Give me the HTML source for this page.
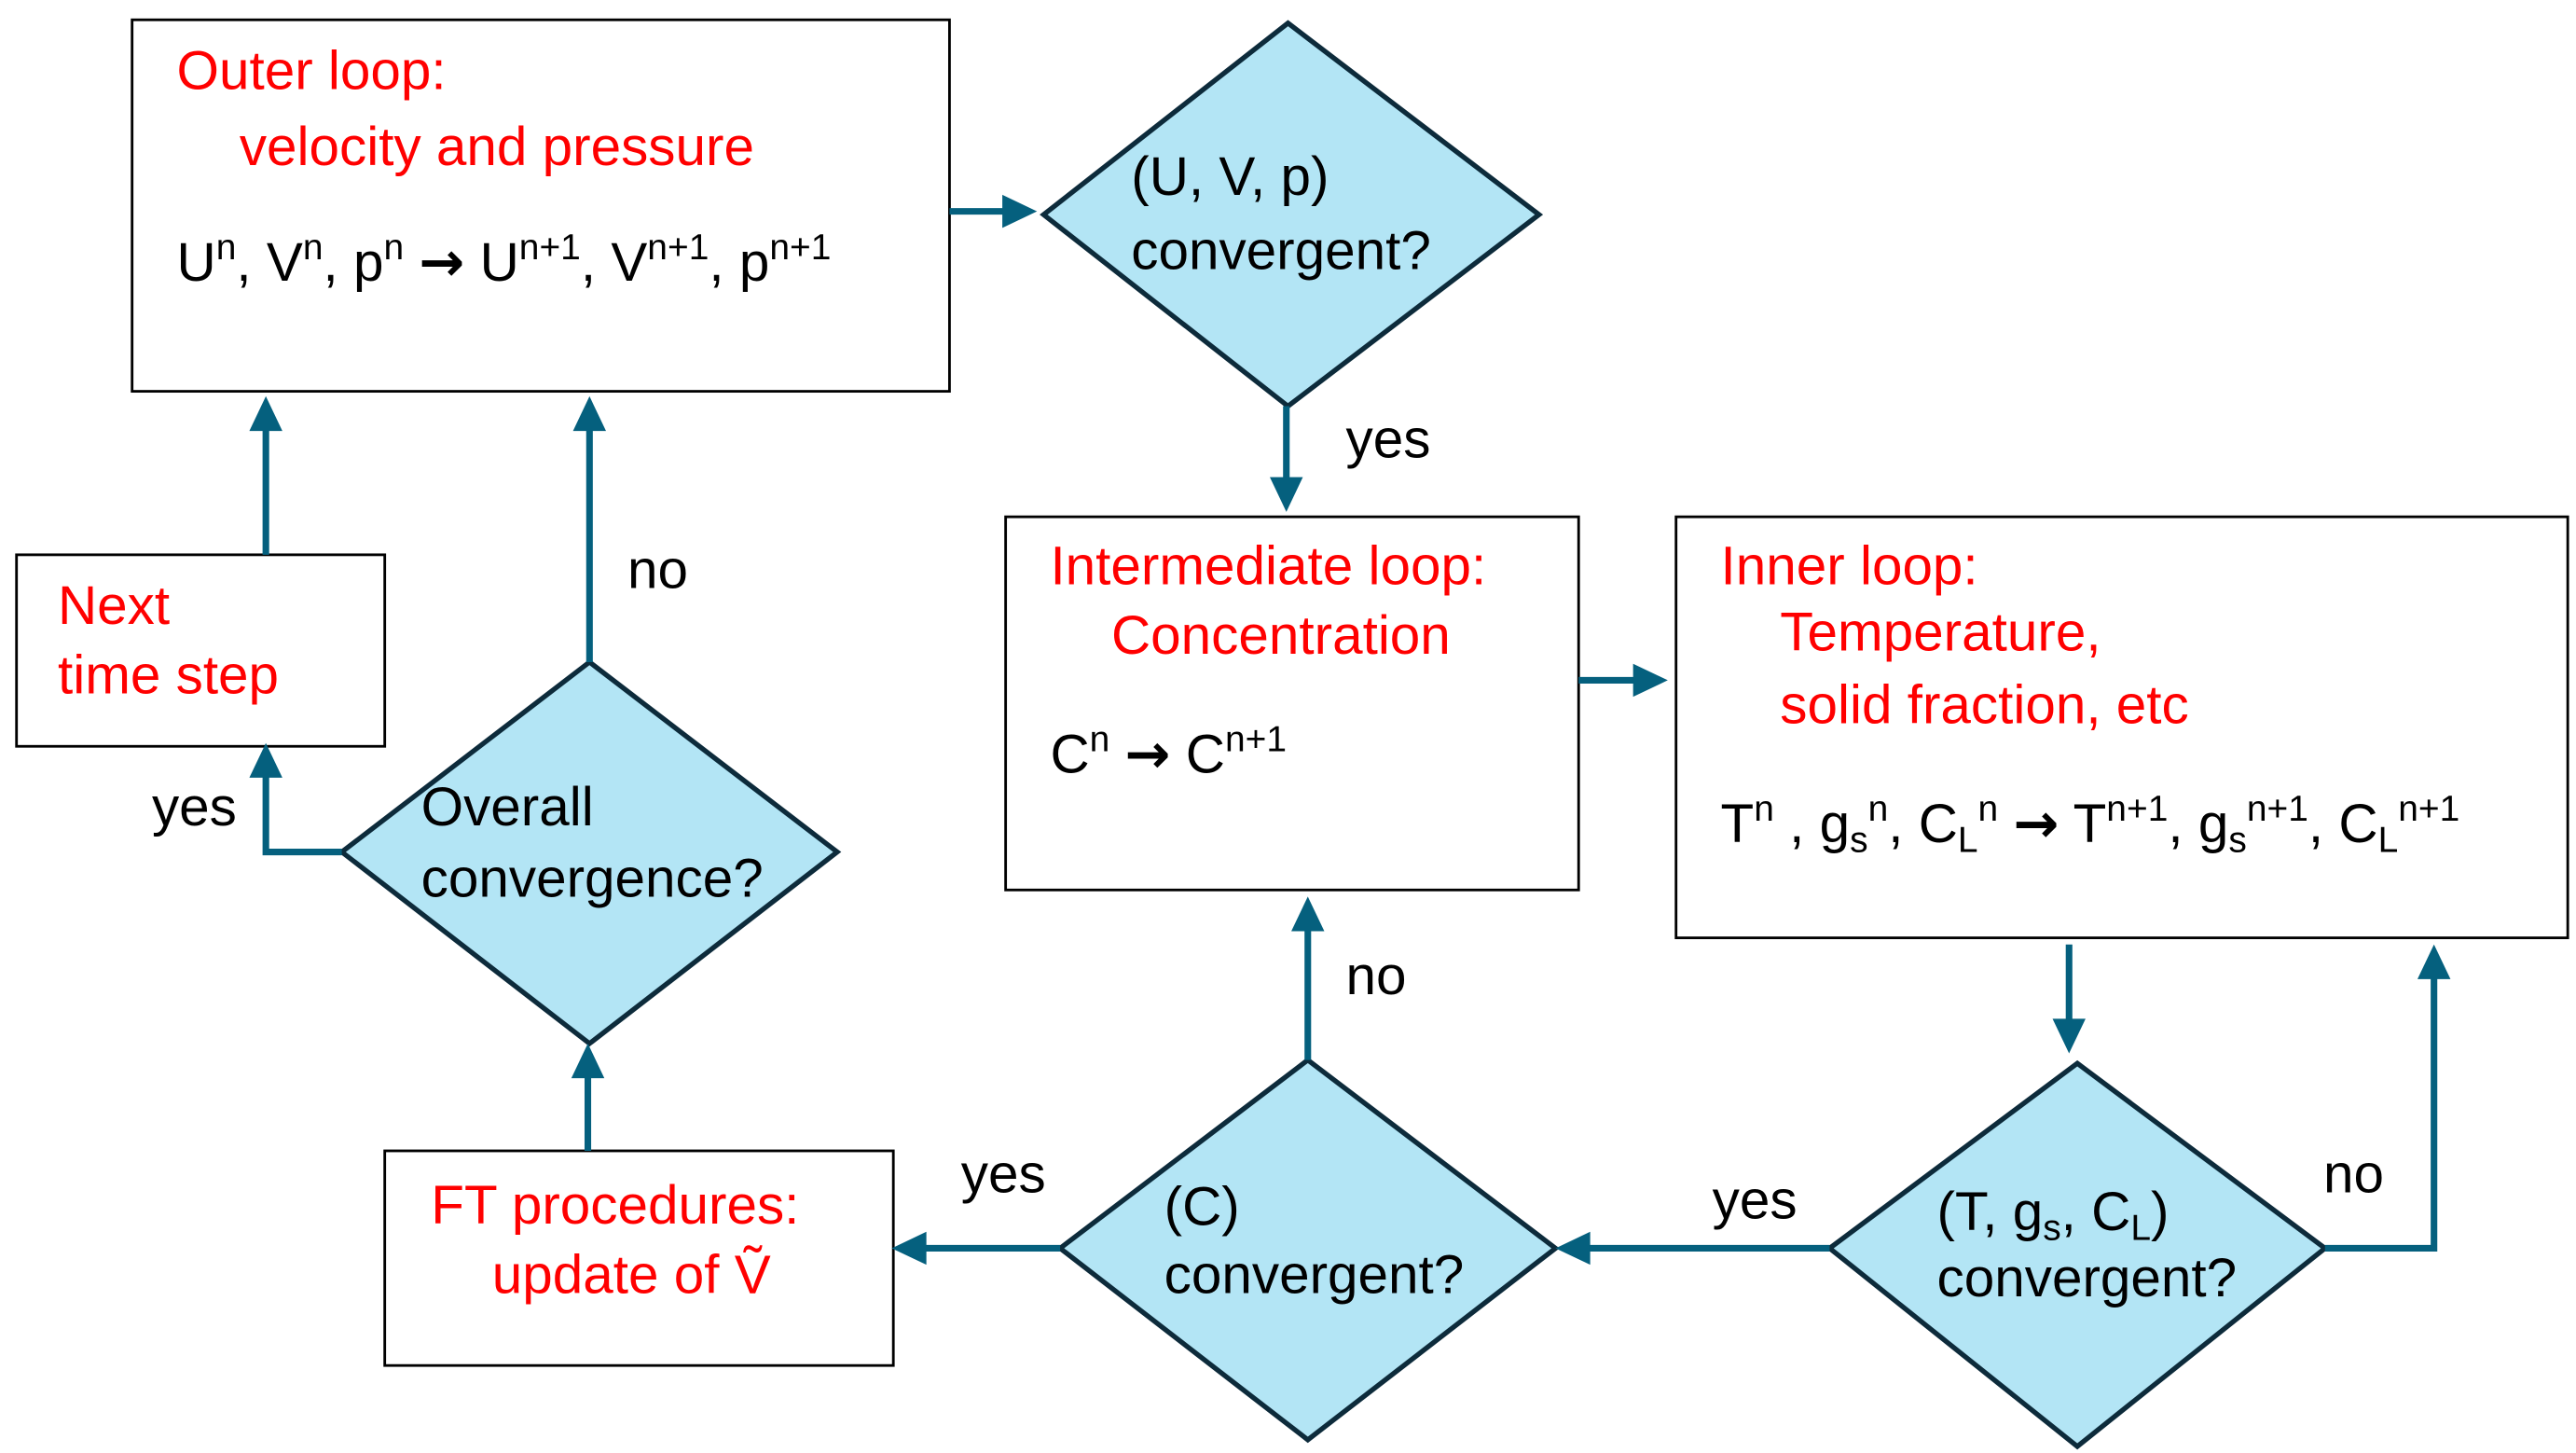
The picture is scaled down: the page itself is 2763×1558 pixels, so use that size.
<!DOCTYPE html>
<html><head><meta charset="utf-8"><style>
html,body{margin:0;padding:0;background:#fff}
svg{display:block}
text{font-family:"Liberation Sans",sans-serif;font-size:33px}
.r{fill:#f00}.k{fill:#000}
.b{fill:#fff;stroke:#000;stroke-width:1.6}
.d{fill:#b3e5f5;stroke:#0d2b3b;stroke-width:3}
.c{fill:none;stroke:#05607e;stroke-width:4}
.h{fill:#05607e}
.a{font-family:"DejaVu Sans",sans-serif;font-weight:bold}
</style></head><body>
<svg width="2763" height="1558" viewBox="0 0 1560 880" preserveAspectRatio="none">
<rect class="b" x="80" y="12" width="495" height="225"/>
<rect class="b" x="609" y="313" width="347" height="226"/>
<rect class="b" x="1015" y="313" width="540" height="255"/>
<rect class="b" x="10" y="336" width="223" height="116"/>
<rect class="b" x="233" y="697" width="308" height="130"/>
<polygon class="d" points="780,14 932,130 780,246 632,130"/>
<polygon class="d" points="357,401 507,516 357,632 207,516"/>
<polygon class="d" points="792,642 942,756 792,872 642,756"/>
<polygon class="d" points="1258,644 1408,756 1258,876 1108,756"/>
<path class="c" d="M575,128 H612"/><polygon class="h" points="628,128 607,118 607,138"/>
<path class="c" d="M779,246 V292"/><polygon class="h" points="779,310 769,289 789,289"/>
<path class="c" d="M956,412 H993"/><polygon class="h" points="1010,412 989,402 989,422"/>
<path class="c" d="M1253,572 V620"/><polygon class="h" points="1253,638 1243,617 1263,617"/>
<path class="c" d="M1408,756 H1474 V592"/><polygon class="h" points="1474,572 1464,593 1484,593"/>
<path class="c" d="M1108,756 H960"/><polygon class="h" points="942,756 963,746 963,766"/>
<path class="c" d="M792,642 V562"/><polygon class="h" points="792,543 782,564 802,564"/>
<path class="c" d="M642,756 H558"/><polygon class="h" points="540,756 561,746 561,766"/>
<path class="c" d="M356,697 V652"/><polygon class="h" points="356,632 346,653 366,653"/>
<path class="c" d="M357,401 V260"/><polygon class="h" points="357,240 347,261 367,261"/>
<path class="c" d="M207,516 H161 V470"/><polygon class="h" points="161,450 151,471 171,471"/>
<path class="c" d="M161,336 V260"/><polygon class="h" points="161,240 151,261 171,261"/>
<text class="r" x="107" y="54">Outer loop:</text>
<text class="r" x="145" y="100">velocity and pressure</text>
<text class="k" x="107" y="170">U<tspan dy="-13" font-size="22">n</tspan><tspan dy="13">, V</tspan><tspan dy="-13" font-size="22">n</tspan><tspan dy="13">, p</tspan><tspan dy="-13" font-size="22">n</tspan><tspan dy="13"> </tspan><tspan class="a">→</tspan><tspan> U</tspan><tspan dy="-13" font-size="22">n+1</tspan><tspan dy="13">, V</tspan><tspan dy="-13" font-size="22">n+1</tspan><tspan dy="13">, p</tspan><tspan dy="-13" font-size="22">n+1</tspan></text>
<text class="k" x="685" y="118">(U, V, p)</text>
<text class="k" x="685" y="163">convergent?</text>
<text class="k" x="815" y="277">yes</text>
<text class="r" x="636" y="354">Intermediate loop:</text>
<text class="r" x="673" y="396">Concentration</text>
<text class="k" x="636" y="468">C<tspan dy="-13" font-size="22">n</tspan><tspan dy="13"> </tspan><tspan class="a">→</tspan><tspan> C</tspan><tspan dy="-13" font-size="22">n+1</tspan></text>
<text class="r" x="1042" y="354">Inner loop:</text>
<text class="r" x="1078" y="394">Temperature,</text>
<text class="r" x="1078" y="438">solid fraction, etc</text>
<text class="k" x="1042" y="510">T<tspan dy="-13" font-size="22">n</tspan><tspan dy="13"> , g</tspan><tspan dy="6" font-size="22">s</tspan><tspan dy="-19" font-size="22">n</tspan><tspan dy="13">, C</tspan><tspan dy="6" font-size="22">L</tspan><tspan dy="-19" font-size="22">n</tspan><tspan dy="13"> </tspan><tspan class="a">→</tspan><tspan> T</tspan><tspan dy="-13" font-size="22">n+1</tspan><tspan dy="13">, g</tspan><tspan dy="6" font-size="22">s</tspan><tspan dy="-19" font-size="22">n+1</tspan><tspan dy="13">, C</tspan><tspan dy="6" font-size="22">L</tspan><tspan dy="-19" font-size="22">n+1</tspan></text>
<text class="k" x="1173" y="745">(T, g<tspan dy="6" font-size="22">s</tspan><tspan dy="-6">, C</tspan><tspan dy="6" font-size="22">L</tspan><tspan dy="-6">)</tspan></text>
<text class="k" x="1173" y="785">convergent?</text>
<text class="k" x="1407" y="722">no</text>
<text class="k" x="1037" y="738">yes</text>
<text class="k" x="705" y="742">(C)</text>
<text class="k" x="705" y="783">convergent?</text>
<text class="k" x="815" y="602">no</text>
<text class="k" x="582" y="722">yes</text>
<text class="r" x="261" y="741">FT procedures:</text>
<text class="r" x="298" y="783">update of Ṽ</text>
<text class="k" x="255" y="500">Overall</text>
<text class="k" x="255" y="543">convergence?</text>
<text class="k" x="380" y="356">no</text>
<text class="k" x="92" y="500">yes</text>
<text class="r" x="35" y="378">Next</text>
<text class="r" x="35" y="420">time step</text>
</svg>
</body></html>
